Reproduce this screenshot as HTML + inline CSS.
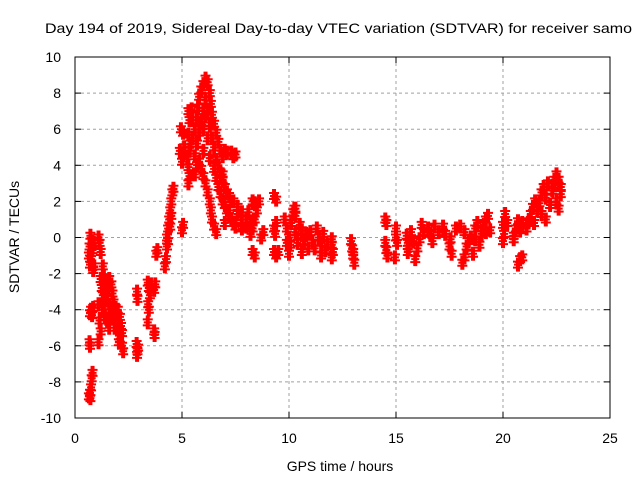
<!DOCTYPE html>
<html><head><meta charset="utf-8"><style>
html,body{margin:0;padding:0;background:#fff}
svg{display:block;font-family:"Liberation Sans",sans-serif}
</style></head><body>
<svg id="chart" width="640" height="480" viewBox="0 0 640 480">
<rect width="640" height="480" fill="#fff"/>
<text x="45" y="33" font-size="14" textLength="587" lengthAdjust="spacingAndGlyphs">Day 194 of 2019, Sidereal Day-to-day VTEC variation (SDTVAR) for receiver samo</text>
<g id="grid"></g>
<g id="marks"></g>
<rect x="75" y="57" width="535" height="361" fill="none" stroke="#000" stroke-width="1"/>
<g id="ticks"></g>
<text x="340" y="471" font-size="14" text-anchor="middle">GPS time / hours</text>
<text transform="translate(19,237) rotate(-90)" font-size="14" text-anchor="middle">SDTVAR / TECUs</text>
</svg>
<script>
const xTicks=[0,5,10,15,20,25];
const yTicks=[-10,-8,-6,-4,-2,0,2,4,6,8,10];
const times=[0.65,0.7,0.72,0.75,0.78,0.82,0.7,0.68,0.7,0.75,0.8,0.85,0.65,0.7,0.68,0.72,0.78,0.82,0.75,0.85,0.9,0.88,
1.1,1.15,1.2,1.3,1.35,1.4,1.45,1.5,1.6,1.7,1.8,1.9,2.0,2.1,2.2,2.25,1.2,1.25,1.3,1.1,1.15,1.2,1.1,1.3,1.45,1.55,1.6,1.7,1.75,1.8,1.9,1.95,2.0,2.1,2.15,2.2,1.5,1.6,1.4,1.35,1.65,1.85,2.05,
2.9,2.92,2.88,2.92,2.9,2.95,
3.4,3.45,3.5,3.42,3.45,3.4,3.55,3.7,3.75,3.7,3.72,
3.8,3.85,4.2,4.25,4.3,4.3,4.35,4.4,4.45,4.5,4.55,4.6,4.35,4.45,4.5,
5.0,5.05,5.0,5.05,5.1,4.95,5.05,4.9,5.3,5.35,5.3,5.25,5.35,5.4,5.3,5.35,5.3,5.45,
5.5,5.6,5.7,5.75,5.8,5.9,6.0,6.1,6.2,6.3,6.35,6.4,6.5,6.6,6.7,6.8,6.9,7.0,7.1,7.3,7.4,7.5,5.6,5.7,5.8,5.9,6.0,6.1,6.2,6.0,6.2,6.3,6.4,6.5,5.8,5.9,6.0,6.1,6.2,6.3,6.35,6.4,6.5,6.6,6.0,6.3,6.5,6.6,6.7,6.8,6.9,7.0,7.1,7.2,7.3,7.4,7.5,6.7,6.8,6.9,7.0,7.2,7.4,7.6,7.8,8.0,8.2,8.3,8.4,8.5,8.6,8.3,7.8,7.6,7.2,7.0,7.5,7.8,8.0,8.2,8.1,7.3,7.1,6.9,6.6,5.5,6.1,5.7,5.6,
8.3,8.4,9.3,9.4,9.3,9.35,9.4,9.3,9.4,9.5,8.3,8.4,8.7,8.8,
9.8,9.9,10.0,10.05,10.1,10.2,10.25,10.3,10.3,10.4,10.5,10.6,10.7,10.8,10.9,11.0,11.1,11.2,11.3,11.4,11.5,11.5,11.6,11.7,11.8,12.0,12.0,12.05,12.0,9.9,10.0,10.6,10.3,
12.9,12.95,13.0,13.05,13.0,
14.5,14.55,14.5,14.55,14.6,15.0,15.0,15.05,14.95,
15.5,15.55,15.6,15.55,15.7,15.8,15.9,16.0,16.1,16.2,16.3,16.5,16.6,16.7,16.8,17.0,17.2,17.3,17.5,17.55,17.6,17.8,18.0,18.2,18.3,18.4,18.5,18.6,18.7,18.8,18.9,19.0,19.1,19.2,19.3,18.2,18.1,19.4,19.2,18.7,
20.0,20.1,20.2,20.05,20.0,20.5,20.6,20.7,20.8,20.9,20.7,20.8,20.9,20.5,
21.1,21.2,21.3,21.4,21.5,21.45,21.6,21.7,21.8,21.9,22.0,21.8,22.0,22.2,22.3,22.4,22.5,22.6,22.7,22.5,22.6,22.7,22.4,22.1];
const values=[-8.8,-8.6,-8.9,-8.3,-7.8,-7.5,-6,-5.8,-4.2,-4.0,-4.3,-3.9,-1.0,-1.5,-0.5,0.1,-0.2,-0.7,-1.2,-1.8,-1.6,-0.3,
0,-0.3,-0.8,-1.6,-2.2,-2.6,-3.0,-3.4,-3.8,-4.0,-4.3,-4.6,-5.0,-5.6,-6.0,-6.3,-2.3,-2.8,-3.2,-3.7,-4.6,-5.2,-5.8,-4.0,-2.4,-2.8,-2.3,-2.6,-3.1,-3.6,-3.9,-4.3,-4.0,-4.4,-4.9,-5.3,-4.6,-5.0,-4.4,-3.6,-4.5,-5.0,-5.8,
-3.0,-3.4,-5.9,-6.3,-6.5,-6.1,
-2.5,-2.8,-3.2,-3.7,-4.0,-4.7,-2.6,-2.9,-2.6,-5.2,-5.4,
-0.9,-0.7,-1.6,-1.2,-0.5,0,0.5,1.0,1.5,2.0,2.5,2.7,-0.2,0.6,1.2,
0.4,0.7,4.2,4.6,5.0,6.0,5.8,4.8,3.0,3.4,3.9,4.5,4.8,5.2,5.7,6.5,7.0,7.1,
5.5,6.0,6.5,7.2,7.8,8.2,8.5,8.8,8.6,8.0,7.4,6.8,6.3,5.8,5.3,4.8,4.5,4.8,4.7,4.7,4.5,4.6,4.5,5.2,5.8,6.4,7.0,7.6,7.0,6.0,5.5,6.2,5.5,5.0,4.2,3.8,3.4,3.0,2.5,2.0,1.5,1.0,0.6,0.3,4.8,4.4,3.8,3.3,2.8,2.4,2.0,1.8,1.5,1.2,1.0,0.8,0.6,4.0,3.6,3.2,2.8,2.3,2.0,1.7,1.4,1.0,0.7,0.5,1.0,1.5,2.0,0.9,1.0,1.3,1.5,0.8,0.8,0.5,0.6,0.2,1.4,2.0,2.5,3.5,4.3,6.5,6.7,4.0,3.5,
2.0,1.9,2.3,2.1,0.5,0.2,0.8,-0.8,-1.0,-0.8,-0.8,-1.0,0,0.3,
1.0,0.5,0,-0.4,0.8,1.4,1.6,1.2,0.3,-0.3,0.7,0.4,-0.2,0.2,-0.6,0.3,-0.3,-0.6,0.5,0,-0.3,-1.0,0.2,-0.7,-0.4,-0.4,-1.1,-0.8,-0.1,-0.3,-0.9,-0.8,1.6,
-0.2,-0.6,-1.0,-1.4,-0.8,
1.0,0.8,-0.3,-0.7,-1.0,0.5,0,-0.3,-1.1,
0.1,-0.3,-0.6,-0.8,0.3,-0.2,-1.2,-0.6,-0.1,0.7,0.3,0.5,0.2,-0.2,0.6,0.3,0.6,0.2,-0.5,-0.1,-0.9,0.5,0.6,0.3,-0.5,-0.2,0,-0.9,0.5,0.8,-0.4,0.2,0.7,1.0,1.2,-1.1,-1.4,0.4,0.3,-0.1,
0.7,1.3,0.8,0.2,-0.2,0.1,0.5,0.9,0.4,0.8,-1.5,-1.2,-1.1,-0.1,
0.5,0.9,1.3,1.7,2.0,0.8,1.5,1.9,2.5,2.8,2.2,1.3,1.0,1.8,2.6,3.2,3.5,3.2,2.8,2.0,1.6,2.4,2.9,3.0];
const NS='http://www.w3.org/2000/svg';
const L=75,R=610,T=57,B=418;
function xs(t){return L+(t-0)/25*(R-L);}
function ys(v){return B-(v+10)/20*(B-T);}
const grid=document.getElementById('grid'),ticks=document.getElementById('ticks'),marks=document.getElementById('marks');
function mk(tag,at,parent){const e=document.createElementNS(NS,tag);for(const k in at)e.setAttribute(k,at[k]);parent.appendChild(e);return e;}
xTicks.forEach(t=>{const x=xs(t);
 if(t>0&&t<25){const g=mk('line',{x1:x,x2:x,y1:T,y2:B,stroke:'#a0a0a0','stroke-dasharray':'3,3'},grid);
 
 }
 const a=mk('line',{x1:x,x2:x,y1:B,y2:B-6,stroke:'#000'},ticks);
 
 
 const b=mk('line',{x1:x,x2:x,y1:T,y2:T+6,stroke:'#000'},ticks);
 
 
 const tx=mk('text',{x:x,y:443,'font-size':14,'text-anchor':'middle'},ticks);tx.textContent=t;
 
 
});
yTicks.forEach(v=>{const y=ys(v);
 if(v>-10&&v<10){const g=mk('line',{x1:L,x2:R,y1:y,y2:y,stroke:'#a0a0a0','stroke-dasharray':'3,3'},grid);
 
 }
 const a=mk('line',{x1:L,x2:L+6,y1:y,y2:y,stroke:'#000'},ticks);
 
 
 const b=mk('line',{x1:R,x2:R-6,y1:y,y2:y,stroke:'#000'},ticks);
 
 
 const tx=mk('text',{x:61,y:y+5,'font-size':14,'text-anchor':'end'},ticks);tx.textContent=v;
 
 
});
// each sample drawn as a small stacked "+" cluster to mimic dense gnuplot point clouds
const offs=[[0,0],[1,-3],[-1,3],[1,3],[-1,-3]];
let d='';
for(let i=0;i<times.length;i++){const x0=xs(times[i]),y0=ys(values[i]);
 offs.forEach(o=>{const x=x0+o[0],y=y0+o[1];d+=`M${x-4},${y}h8M${x},${y-4}v8`;});}
const p=mk('path',{d:d,stroke:'#ff0000','stroke-width':2,fill:'none'},marks);


</script>
</body></html>
